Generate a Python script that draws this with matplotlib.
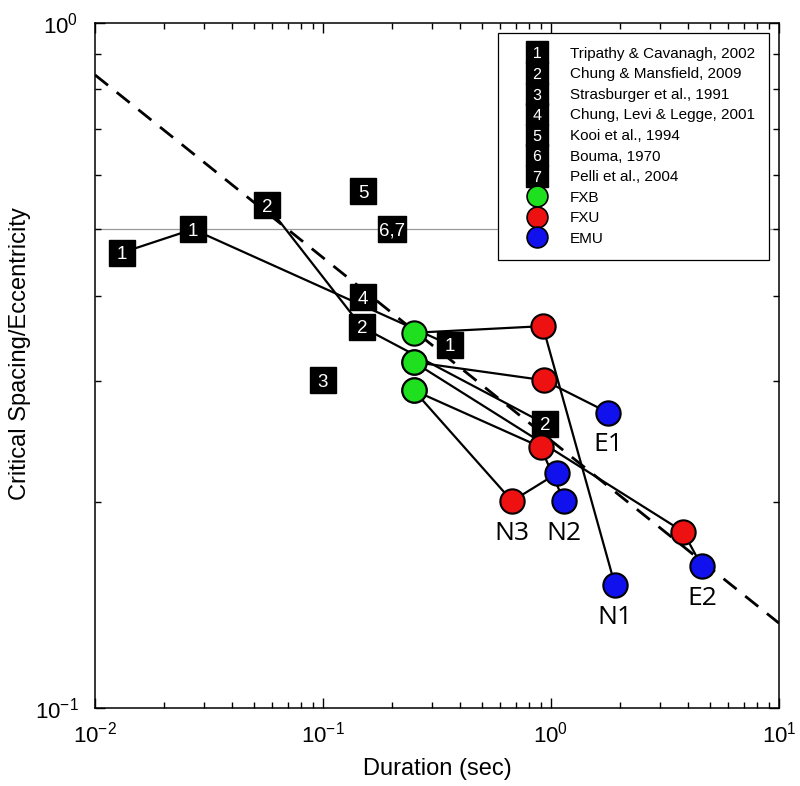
import matplotlib
matplotlib.use('Agg')
import matplotlib.pyplot as plt
from matplotlib.lines import Line2D
from matplotlib.ticker import NullFormatter

plt.rcParams['font.family'] = ['Liberation Sans', 'DejaVu Sans']
plt.rcParams['mathtext.default'] = 'regular'

# literature data (numbered squares), duration (sec) vs spacing/eccentricity
trip_x = [0.0131, 0.0269, 0.36]
trip_y = [0.462, 0.50, 0.339]
chung_x = [0.0568, 0.148, 0.94]
chung_y = [0.542, 0.360, 0.260]
stras_x = [0.10]
stras_y = [0.301]
cll_x = [0.15]
cll_y = [0.398]
kooi_x = [0.15]
kooi_y = [0.568]
bp_x = [0.20]   # Bouma 1970 and Pelli 2004 share one point
bp_y = [0.50]

# subjects: FXB -> FXU -> EMU
subjects = ['N1', 'E1', 'E2', 'N2', 'N3']
fxb_x = [0.25, 0.25, 0.25, 0.25, 0.25]
fxb_y = [0.353, 0.320, 0.320, 0.291, 0.291]
fxu_x = [0.92, 0.93, 3.79, 0.90, 0.675]
fxu_y = [0.361, 0.301, 0.181, 0.2405, 0.2005]
emu_x = [1.91, 1.78, 4.59, 1.14, 1.06]
emu_y = [0.151, 0.270, 0.161, 0.2005, 0.220]
label_on = ['emu', 'emu', 'emu', 'emu', 'fxu']

# dashed fit line
fit_x = [0.01, 10]
fit_y = [0.84, 0.133]

refs = ['Tripathy & Cavanagh, 2002', 'Chung & Mansfield, 2009',
        'Strasburger et al., 1991', 'Chung, Levi & Legge, 2001',
        'Kooi et al., 1994', 'Bouma, 1970', 'Pelli et al., 2004']
green = '#1ee01e'
red = '#ee1111'
blue = '#1111ee'

fig = plt.figure(figsize=(8, 7.86), dpi=100)
ax = fig.add_axes([0.11875, 0.0992, 0.855, 0.8715])
ax.set_xscale('log')
ax.set_yscale('log')
ax.set_xlim(0.01, 10)
ax.set_ylim(0.1, 1)

ax.axhline(0.5, color='0.6', lw=0.9, zorder=1)
ax.plot(fit_x, fit_y, color='k', lw=2, dashes=(6, 4), zorder=2)

ax.plot(trip_x, trip_y, color='k', lw=1.6, zorder=3)
ax.plot(chung_x, chung_y, color='k', lw=1.6, zorder=3)
for i in range(len(subjects)):
    ax.plot([fxb_x[i], fxu_x[i], emu_x[i]], [fxb_y[i], fxu_y[i], emu_y[i]],
            color='k', lw=1.6, zorder=3)


def numbered(xs, ys, txt, marker='s', ms=19):
    ax.plot(xs, ys, ls='none', marker=marker, ms=ms, mfc='k', mec='k', zorder=5)
    for x, y in zip(xs, ys):
        ax.text(x, y, txt, color='w', fontsize=13.5, ha='center',
                va='center_baseline', zorder=6)


numbered(trip_x, trip_y, '1')
numbered(chung_x, chung_y, '2')
numbered(stras_x, stras_y, '3')
numbered(cll_x, cll_y, '4')
numbered(kooi_x, kooi_y, '5')
rect = [(-1.05, -1), (1.05, -1), (1.05, 1), (-1.05, 1), (-1.05, -1)]
numbered(bp_x, bp_y, '6,7', marker=rect, ms=19.5)

ax.plot(fxb_x, fxb_y, ls='none', marker='o', ms=17.5, mfc=green, mec='k', mew=1.5, zorder=7)
ax.plot(fxu_x, fxu_y, ls='none', marker='o', ms=17.5, mfc=red, mec='k', mew=1.5, zorder=7)
ax.plot(emu_x, emu_y, ls='none', marker='o', ms=17.5, mfc=blue, mec='k', mew=1.5, zorder=7)

for i, s in enumerate(subjects):
    if label_on[i] == 'emu':
        px, py = emu_x[i], emu_y[i]
    else:
        px, py = fxu_x[i], fxu_y[i]
    ax.annotate(s, (px, py), xytext=(0, -23), textcoords='offset points',
                ha='center', va='center', fontsize=19, family=['Open Sans', 'DejaVu Sans'],
                zorder=8)

# legend
handles = []
for k in range(7):
    sq = Line2D([], [], ls='none', marker='s', ms=16, mfc='k', mec='k')
    num = Line2D([], [], ls='none', marker='$%d$' % (k + 1), ms=8, mfc='w', mec='w', mew=0)
    handles.append((sq, num))
for c in [green, red, blue]:
    handles.append(Line2D([], [], ls='none', marker='o', ms=15, mfc=c, mec='k', mew=1.2))
labels = refs + ['FXB', 'FXU', 'EMU']
leg = ax.legend(handles, labels, loc='upper right', fontsize=11, frameon=True,
                fancybox=False, edgecolor='k', framealpha=1, borderpad=0.9,
                handlelength=3.3, handletextpad=0.55, labelspacing=0.43,
                borderaxespad=0.65)
leg.get_frame().set_linewidth(0.9)
leg.set_zorder(10)

ax.yaxis.set_minor_formatter(NullFormatter())
ax.xaxis.set_minor_formatter(NullFormatter())
ax.tick_params(which='both', direction='in', top=True, right=True, width=1)
ax.tick_params(which='major', length=7, labelsize=16)
ax.tick_params(which='minor', length=4)
ax.tick_params(axis='x', which='major', pad=10)
ax.tick_params(axis='y', which='major', pad=12)
for sp in ax.spines.values():
    sp.set_linewidth(1.1)

ax.set_xlabel('Duration (sec)', fontsize=17)
ax.set_ylabel('Critical Spacing/Eccentricity', fontsize=17)
ax.xaxis.set_label_coords(0.5, -0.073)
ax.yaxis.set_label_coords(-0.093, 0.518)

fig.savefig('out.png', dpi=100)
